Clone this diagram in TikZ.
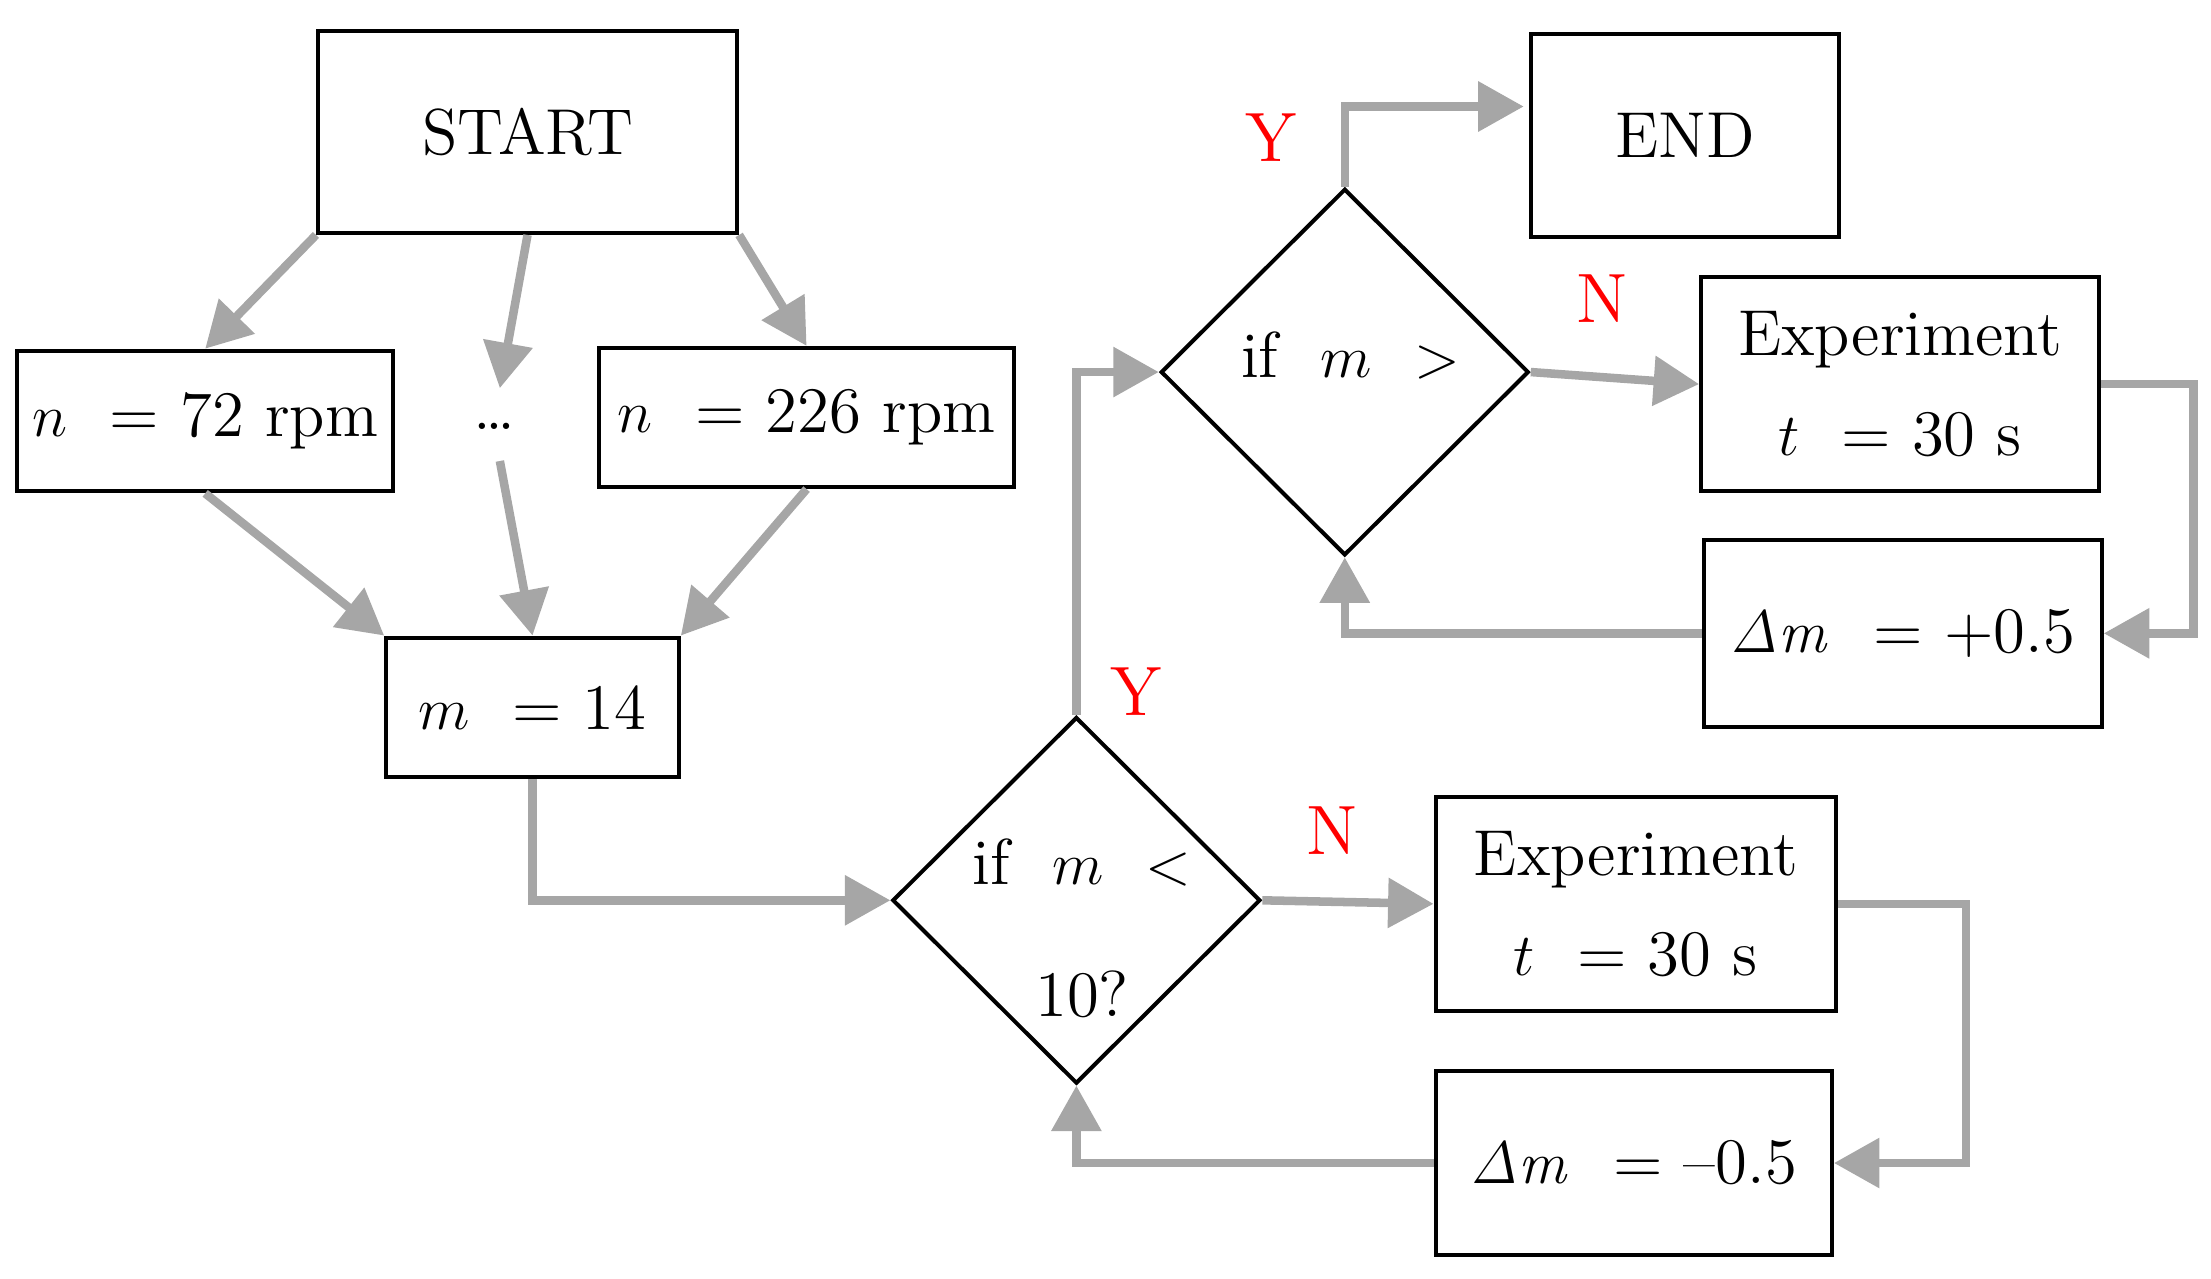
\documentclass[tikz,border=0pt]{standalone}
\usetikzlibrary{shapes.geometric,arrows.meta,calc}
\definecolor{ar}{HTML}{A6A6A6}
\definecolor{lab}{HTML}{FF0000}
\begin{document}
\begin{tikzpicture}[x=0.01cm,y=-0.01cm,
  box/.style={draw,line width=0.8pt,inner sep=0pt,font=\fontsize{13}{16}\selectfont,align=center},
  dia/.style={draw,diamond,line width=0.8pt,inner sep=0pt,minimum width=2.59cm,minimum height=2.58cm},
  txt/.style={font=\fontsize{13}{16}\selectfont},
  yn/.style={text=lab,font=\fontsize{14}{16}\selectfont},
  arr/.style={draw=ar,line width=0.06cm,-{Triangle[length=0.32cm,width=0.34cm]}}]
\useasboundingbox (0,0) rectangle (1557,900);
\node[box,minimum width=2.95cm,minimum height=1.42cm] (start) at (371.5,93) {START};
\node[box,minimum width=2.65cm,minimum height=0.99cm] (n72) at (144.5,296.5) {$n$~~= 72 rpm};
\node[txt] (dots) at (348,300) {\dots};
\node[box,minimum width=2.92cm,minimum height=0.98cm] (n226) at (568,294) {$n$~~= 226 rpm};
\node[box,minimum width=2.06cm,minimum height=0.98cm] (m14) at (375,498) {$m$~~= 14};
\node[dia] (d1) at (758,634) {};
\node[txt] (d1a) at (762,607) {if~~$m$~~$<$};
\node[txt] (d1b) at (762,700) {10?};
\node[dia] (d2) at (947,262) {};
\node[txt] (d2a) at (951,250) {if~~$m$~~$>$};
\node[box,minimum width=2.17cm,minimum height=1.43cm] (end) at (1186.5,95.5) {END};
\node[box,minimum width=2.80cm,minimum height=1.51cm] (exp1) at (1338,270.5) {Experiment\\[4pt]$t$~~= 30 s};
\node[box,minimum width=2.80cm,minimum height=1.32cm] (dm1) at (1340,446) {$\mathit{\Delta m}$~~= +0.5};
\node[box,minimum width=2.82cm,minimum height=1.51cm] (exp2) at (1152,636.5) {Experiment\\[4pt]$t$~~= 30 s};
\node[box,minimum width=2.79cm,minimum height=1.30cm] (dm2) at (1150.5,819) {$\mathit{\Delta m}$~~= –0.5};
\node[yn] (y1) at (895,97) {Y};
\node[yn] (n1) at (1128,210) {N};
\node[yn] (y2) at (800,487) {Y};
\node[yn] (n2) at (938,585) {N};
\coordinate (c1) at (1073,75);
\draw[arr] (start.south west) -- (n72.north);
\draw[arr] (start.south) -- ($(dots.north)+(4,-12)$);
\draw[arr] (start.south east) -- (n226.north);
\draw[arr] (n72.south) -- (m14.north west);
\draw[arr] ($(dots.south)+(4,10)$) -- (m14.north);
\draw[arr] (n226.south) -- (m14.north east);
\draw[arr] (m14.south) |- (d1.west);
\draw[arr] (d1.north) |- (d2.west);
\draw[arr] (d2.east) -- (exp1.west);
\draw[arr] (d2.north) |- (c1);
\draw[arr] (exp1.east) -- ++(65,0) |- (dm1.east);
\draw[arr] (dm1.west) -| (d2.south);
\draw[arr] (d1.east) -- (exp2.west);
\draw[arr] (exp2.east) -- ++(90,0) |- (dm2.east);
\draw[arr] (dm2.west) -| (d1.south);
\end{tikzpicture}
\end{document}
